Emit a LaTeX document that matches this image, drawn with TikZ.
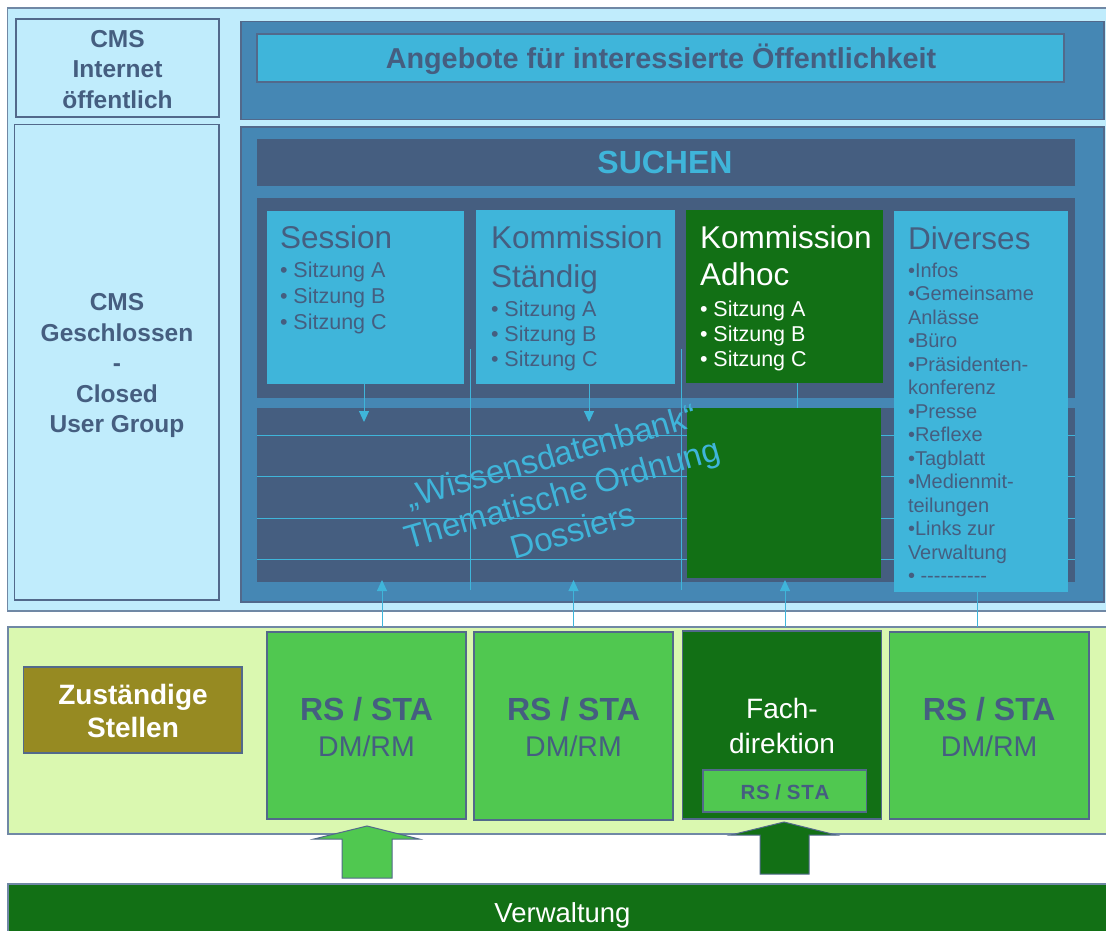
\documentclass[tikz,border=0pt]{standalone}
\usepackage{fontspec}
\setmainfont{Liberation Sans}
\usetikzlibrary{arrows.meta}

\definecolor{skyback}{HTML}{C0ECFC}
\definecolor{steel}{HTML}{4587B4}
\definecolor{cyanbox}{HTML}{3FB5DA}
\definecolor{slate}{HTML}{455E80}
\definecolor{darkgreen}{HTML}{127015}
\definecolor{midgreen}{HTML}{50C850}
\definecolor{palegreen}{HTML}{DAF8B0}
\definecolor{olive}{HTML}{968A22}
\definecolor{edge}{HTML}{52698B}
\definecolor{outeredge}{HTML}{7088A5}

% rectangle node given by its corners (pixel grid, y downwards)
\newcommand\panelbox[6]{%
  \node[#2, anchor=north west, inner sep=0pt, outer sep=0pt,
        minimum width={(#5)-(#3)}, minimum height={(#6)-(#4)}] (#1) at (#3,#4) {};}
% stacked lines, baseline of the block = baseline of its first line
\newcommand\lines[2]{\begin{tabular}[t]{@{}#1@{}}#2\end{tabular}}

\tikzset{
  outerpanel/.style={fill=#1, draw=outeredge, line width=1.2pt},
  framed/.style={fill=#1, draw=edge, line width=1.2pt},
  plain/.style={fill=#1},
  label/.style={inner sep=0pt, outer sep=0pt},
  conn/.style={draw=cyanbox, line width=1pt},
  conntip/.style={conn, -{Triangle[width=10pt,length=11pt]}},
  hline/.style={draw=cyanbox, line width=1pt},
  blockarrow/.style={fill=#1, draw=edge, line width=1pt, line join=miter},
}

\begin{document}
\begin{tikzpicture}[x=1pt, y=-1pt]
\useasboundingbox (0,0) rectangle (1106,930);
\clip (0,0) rectangle (1106,930);
\fill[white] (0,0) rectangle (1106,930);

% ---------- CMS area ----------
\panelbox{cmsarea}{outerpanel=skyback}{7.5}{8}{1115}{611}
\panelbox{cmsnet}{framed=skyback}{16}{19}{219}{117}
\panelbox{cmscug}{framed=skyback}{14.6}{124.5}{219}{600}

\node[label, anchor=base, text=slate, font=\bfseries\fontsize{24.5}{30.5}\selectfont]
  (cmsnettext) at (117.5,47) {\lines{c}{CMS\\Internet\\öffentlich}};
\node[label, anchor=base, text=slate, font=\bfseries\fontsize{24.5}{30.5}\selectfont]
  (cmscugtext) at (117,310.5) {\lines{c}{CMS\\Geschlossen\\-\\Closed\\User Group}};

% public offer
\panelbox{pubpanel}{framed=steel}{241}{21.5}{1104}{119.5}
\panelbox{angebote}{framed=cyanbox}{257}{34}{1064}{82}
\node[label, anchor=base, text=slate, font=\bfseries\fontsize{28.8}{30}\selectfont]
  (angebotetext) at (661,68) {Angebote für interessierte Öffentlichkeit};

% closed user group
\panelbox{cugpanel}{framed=steel}{241}{127}{1104}{602}
\panelbox{suchen}{plain=slate}{257}{139}{1075}{186}
\node[label, anchor=base, text=cyanbox, font=\bfseries\fontsize{32}{36}\selectfont]
  (suchentext) at (665,173) {SUCHEN};

\panelbox{sessrow}{plain=slate}{257}{198}{1075}{398}
\panelbox{wissen}{plain=slate}{257}{408}{1075}{582}
\foreach \y in {435,476,518,559}
  \draw[hline] (257,\y) -- (1075,\y);

\draw[hline] (470,349) -- (470,590);
\draw[hline] (681,349) -- (681,590);

% session boxes
\panelbox{sess}{plain=cyanbox}{267}{211}{464}{384}
\panelbox{kstd}{plain=cyanbox}{476}{210}{675}{384}
\panelbox{kadh}{plain=darkgreen}{686}{210}{883}{383}
\panelbox{kadhdb}{plain=darkgreen}{687}{408}{881}{578}
\panelbox{div}{plain=cyanbox}{894}{211}{1068}{592}

\node[label, anchor=base west, text=slate, font=\fontsize{31.5}{39}\selectfont]
  (sesstitle) at (280,248) {Session};
\node[label, anchor=base west, text=slate, font=\fontsize{21.5}{26}\selectfont]
  (sesslist) at (280,277) {\lines{l}{• Sitzung A\\• Sitzung B\\• Sitzung C}};

\node[label, anchor=base west, text=slate, font=\fontsize{31.5}{39}\selectfont]
  (kstdtitle) at (491,248) {\lines{l}{Kommission\\Ständig}};
\node[label, anchor=base west, text=slate, font=\fontsize{21.5}{25}\selectfont]
  (kstdlist) at (491,316) {\lines{l}{• Sitzung A\\• Sitzung B\\• Sitzung C}};

\node[label, anchor=base west, text=white, font=\fontsize{31.5}{37}\selectfont]
  (kadhtitle) at (700,248) {\lines{l}{Kommission\\Adhoc}};
\node[label, anchor=base west, text=white, font=\fontsize{21.5}{25}\selectfont]
  (kadhlist) at (700,316) {\lines{l}{• Sitzung A\\• Sitzung B\\• Sitzung C}};

\node[label, anchor=base west, text=slate, font=\fontsize{31.5}{39}\selectfont]
  (divtitle) at (908,249) {Diverses};
\node[label, anchor=base west, text=slate, font=\fontsize{20}{23.5}\selectfont]
  (divlist) at (908,277) {\lines{l}{•Infos\\•Gemeinsame\\Anlässe\\•Büro\\•Präsidenten-\\konferenz\\•Presse\\•Reflexe\\•Tagblatt\\•Medienmit-\\teilungen\\•Links zur\\Verwaltung\\• -{}-{}-{}-{}-{}-{}-{}-{}-{}-}};

% knowledge base caption, written across the rows
\node[label, rotate=16, text=cyanbox, font=\fontsize{33}{39}\selectfont]
  (wissentext) at (563,497) {\lines{c}{„Wissensdatenbank“\\Thematische Ordnung\\Dossiers}};

% links between session boxes and the knowledge base
\coordinate (sessin) at (364,422);
\coordinate (kstdout) at (589,384);
\coordinate (kstdin) at (589,422);
\coordinate (kadhout) at (797,383);
\coordinate (kadhin) at (797,408);
\draw[conntip] (sess.south -| sessin) -- (sessin);
\draw[conntip] (kstdout) -- (kstdin);
\draw[conn] (kadhout) -- (kadhin);

% ---------- responsible units ----------
\panelbox{units}{outerpanel=palegreen}{8}{627}{1115}{834}
\panelbox{zust}{framed=olive}{23.6}{667}{242}{753}
\node[label, anchor=base, text=white, font=\bfseries\fontsize{28}{33}\selectfont]
  (zusttext) at (133,704) {\lines{c}{Zuständige\\Stellen}};

\panelbox{rsa}{framed=midgreen}{267}{632}{466}{819}
\panelbox{rsb}{framed=midgreen}{474}{632}{673}{820}
\panelbox{fach}{framed=darkgreen}{682.6}{631}{881.5}{819}
\panelbox{fachrs}{framed=midgreen}{703}{770}{866.7}{812}
\panelbox{rsc}{framed=midgreen}{889.5}{632}{1089}{819}

\foreach \b/\cx in {rsa/366.5, rsb/573.5, rsc/989.2}{
  \node[label, anchor=base, text=slate, font=\bfseries\fontsize{32}{36}\selectfont]
    (\b title) at (\cx,720) {RS / STA};
  \node[label, anchor=base, text=slate, font=\fontsize{28.5}{32}\selectfont]
    (\b sub) at (\cx,756) {DM/RM};
}
\node[label, anchor=base, text=white, font=\fontsize{28}{35}\selectfont]
  (fachtext) at (782,718) {\lines{c}{Fach-\\direktion}};
\node[label, anchor=base, text=slate, font=\bfseries\fontsize{20.5}{24}\selectfont]
  (fachrstext) at (785,799) {R\kern0.8pt S / S\kern0.8pt T\kern0.8pt A};

% upward links into the closed user group
\coordinate (upa) at (382,580);
\coordinate (upb) at (573.5,580);
\coordinate (upc) at (785,580);
\coordinate (divdown) at (977,592);
\draw[conntip] (units.north -| upa) -- (upa);
\draw[conntip] (units.north -| upb) -- (upb);
\draw[conntip] (units.north -| upc) -- (upc);
\draw[conn] (divdown) -- (units.north -| divdown);

% ---------- administration ----------
\panelbox{verw}{outerpanel=darkgreen}{8}{884}{1115}{940}
\node[label, anchor=base, text=white, font=\fontsize{27.5}{30}\selectfont]
  (verwtext) at (562.5,922) {Verwaltung};

% block arrows from the administration up to the units
\draw[blockarrow=midgreen] (342,878) -- (392,878) -- (392,839) -- (419,839)
  -- (367,826) -- (314,839) -- (342,839) -- cycle;
\draw[blockarrow=darkgreen] (760,874) -- (809,874) -- (809,835) -- (836,835)
  -- (784,822) -- (731,835) -- (760,835) -- cycle;
\end{tikzpicture}
\end{document}
